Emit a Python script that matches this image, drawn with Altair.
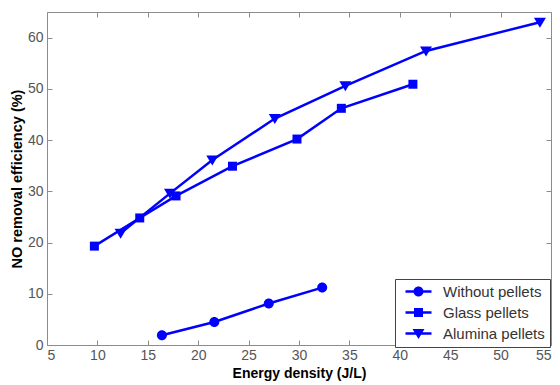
import altair as alt
import pandas as pd

# ---- data ----
series_names = ["Without pellets", "Glass pellets", "Alumina pellets"]

without_x = [16.4, 21.6, 27.0, 32.3]
without_y = [1.9, 4.5, 8.1, 11.2]

glass_x = [9.7, 14.2, 17.8, 23.4, 29.8, 34.2, 41.3]
glass_y = [19.3, 24.8, 29.1, 34.9, 40.2, 46.2, 50.9]

alumina_x = [12.3, 17.2, 21.4, 27.6, 34.6, 42.6, 53.9]
alumina_y = [21.8, 29.6, 36.1, 44.2, 50.6, 57.4, 63.0]

x_ticks = [5, 10, 15, 20, 25, 30, 35, 40, 45, 50, 55]
y_ticks = [0, 10, 20, 30, 40, 50, 60]

rows = []
for name, xs, ys in [(series_names[0], without_x, without_y),
                     (series_names[1], glass_x, glass_y),
                     (series_names[2], alumina_x, alumina_y)]:
    for i, (xv, yv) in enumerate(zip(xs, ys)):
        rows.append({"series": name, "x": xv, "y": yv, "order": i})
df = pd.DataFrame(rows)

BLUE = "#0000ff"
FRAME = "#8c8c8c"

# marker shapes (unit = 5 px at size 100)
circle = "M1,0A1,1 0 1,1 -1,0A1,1 0 1,1 1,0Z"
square = "M-0.9,-0.9L0.9,-0.9L0.9,0.9L-0.9,0.9Z"
tri_down = "M-1.2,-0.9L1.2,-0.9L0,1.1Z"
# legend symbols: marker with a line through it
bar = "M-2.6,-0.25L2.6,-0.25L2.6,0.25L-2.6,0.25Z"
leg_paths = [bar + " " + circle, bar + " " + square, bar + " " + tri_down]

xscale = alt.Scale(domain=[5, 55], nice=False, zero=False)
yscale = alt.Scale(domain=[0, 65], nice=False, zero=True)

base = alt.Chart(df)

lines = base.mark_line(color=BLUE, strokeWidth=2.5).encode(
    x=alt.X("x:Q", scale=xscale,
            axis=alt.Axis(orient="bottom", values=x_ticks, title="Energy density (J/L)",
                          offset=-5, labelPadding=3, titlePadding=4)),
    y=alt.Y("y:Q", scale=yscale,
            axis=alt.Axis(orient="left", values=y_ticks, title="NO removal efficiency (%)",
                          offset=-5, labelPadding=4, titlePadding=3)),
    detail="series:N",
    order="order:Q",
)

points = base.mark_point(filled=True, color=BLUE, size=100, opacity=1).encode(
    x=alt.X("x:Q", scale=xscale, axis=None),
    y=alt.Y("y:Q", scale=yscale, axis=None),
    shape=alt.Shape("series:N", scale=alt.Scale(domain=series_names,
                                                range=[circle, square, tri_down]),
                    legend=None),
)

legend_pts = base.mark_point(filled=True, color=BLUE, size=100).encode(
    x=alt.X("x:Q", scale=xscale,
            axis=alt.Axis(orient="top", values=x_ticks, labels=False, title=None, offset=-5)),
    y=alt.Y("y:Q", scale=yscale,
            axis=alt.Axis(orient="right", values=y_ticks, labels=False, title=None, offset=-5)),
    shape=alt.Shape("series:N", scale=alt.Scale(domain=series_names, range=leg_paths),
                    legend=alt.Legend(title=None, orient="none", legendX=348, legendY=267,
                                      strokeColor="#444444", fillColor="white", padding=5,
                                      symbolSize=100, symbolOffset=11, labelOffset=17,
                                      symbolOpacity=1, symbolFillColor=BLUE,
                                      symbolStrokeWidth=0,
                                      labelFont="Liberation Sans", labelFontSize=15,
                                      labelColor="#333333", rowPadding=5)),
    opacity=alt.value(0),
)

chart = alt.layer(lines, points, legend_pts).resolve_scale(
    shape="independent"
).resolve_axis(
    x="independent", y="independent"
).properties(
    width=504, height=333,
    autosize=alt.AutoSizeParams(type="none"),
    padding={"left": 39, "top": 4, "right": 1, "bottom": 38},
).configure_view(
    stroke=FRAME, strokeWidth=1
).configure_axis(
    grid=False, domain=False, tickColor=FRAME, tickSize=5, tickWidth=1,
    labelFont="Liberation Sans", labelFontSize=14, labelColor="#555555",
    titleFont="Liberation Sans", titleFontSize=14, titleFontWeight="bold", titleColor="black",
).configure_axisLeft(
    titleFontSize=14.5
)

chart.save("out.html", embed_options={"renderer": "svg", "actions": False})
